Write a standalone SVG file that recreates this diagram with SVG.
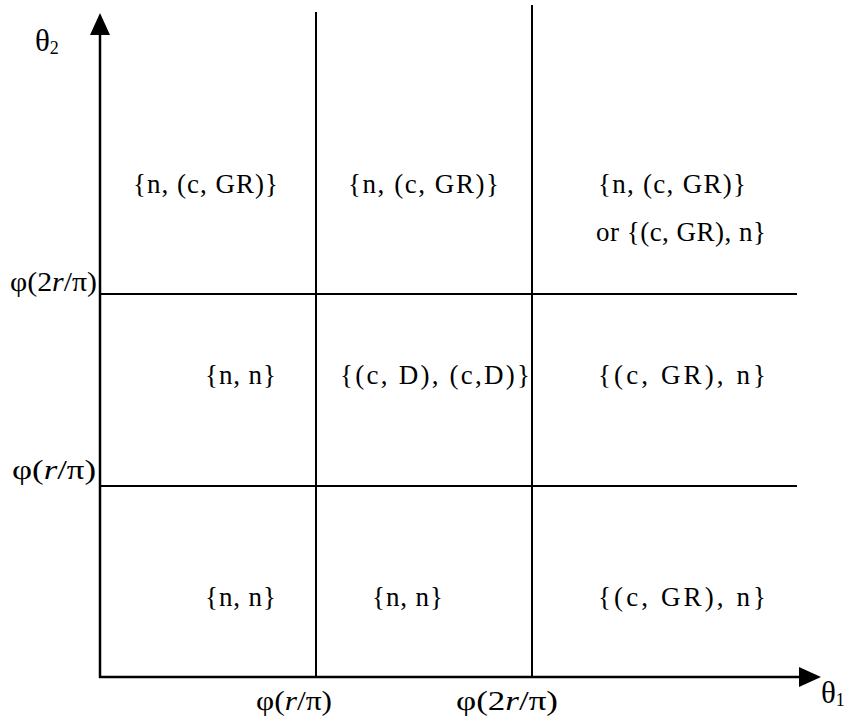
<svg xmlns="http://www.w3.org/2000/svg" width="845" height="717" viewBox="0 0 845 717">
<style>
.ax{stroke:#000;stroke-width:2.5;fill:none}
.ln{stroke:#000;stroke-width:2;fill:none}
text{font-family:"Liberation Serif","Times New Roman","DejaVu Serif",serif;font-size:27px;fill:#000}
.lbl{font-size:27px}
.th{font-size:31px}
.sub{font-size:18px}
</style>
<rect width="845" height="717" fill="#fff"/>
<g id="connectors">
<line class="ax" x1="100" y1="678" x2="100" y2="34"/>
<polygon points="100,13 90,35 110,35" fill="#000"/>
<line class="ax" x1="99" y1="677" x2="800" y2="677"/>
<polygon points="821,677 799,667 799,687" fill="#000"/>
<line class="ln" x1="316" y1="12" x2="316" y2="677"/>
<line class="ln" x1="532" y1="5" x2="532" y2="677"/>
<line class="ln" x1="100" y1="294" x2="797" y2="294"/>
<line class="ln" x1="100" y1="486" x2="797" y2="486"/>
</g>
<g id="axis-labels">
<text class="th" x="35" y="51">θ<tspan class="sub" dy="3">2</tspan></text>
<text class="th" x="821" y="703">θ<tspan class="sub" dy="3">1</tspan></text>
<text class="lbl" x="10" y="291" textLength="87" lengthAdjust="spacingAndGlyphs">φ(2<tspan font-style="italic">r</tspan>/π)</text>
<text class="lbl" x="12" y="479" textLength="84" lengthAdjust="spacingAndGlyphs">φ(<tspan font-style="italic">r</tspan>/π)</text>
<text class="lbl" x="256" y="710" textLength="76" lengthAdjust="spacingAndGlyphs">φ(<tspan font-style="italic">r</tspan>/π)</text>
<text class="lbl" x="456" y="710" textLength="102" lengthAdjust="spacingAndGlyphs">φ(2<tspan font-style="italic">r</tspan>/π)</text>
</g>
<g id="cell-r1c1"><text x="133" y="193" textLength="145">{n, (c, GR)}</text></g>
<g id="cell-r1c2"><text x="348" y="193" textLength="151">{n, (c, GR)}</text></g>
<g id="cell-r1c3"><text x="598" y="193" textLength="148">{n, (c, GR)}</text><text x="596" y="241" textLength="170">or {(c, GR), n}</text></g>
<g id="cell-r2c1"><text x="205" y="384" textLength="71">{n, n}</text></g>
<g id="cell-r2c2"><text x="340" y="384" textLength="190">{(c, D), (c,D)}</text></g>
<g id="cell-r2c3"><text x="598" y="384" textLength="168">{(c, GR), n}</text></g>
<g id="cell-r3c1"><text x="205" y="606" textLength="71">{n, n}</text></g>
<g id="cell-r3c2"><text x="372" y="606" textLength="71">{n, n}</text></g>
<g id="cell-r3c3"><text x="598" y="606" textLength="168">{(c, GR), n}</text></g>
</svg>
